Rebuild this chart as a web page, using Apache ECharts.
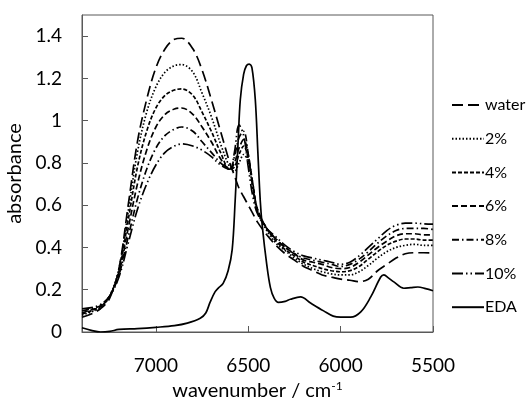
<!DOCTYPE html>
<html>
<head>
<meta charset="utf-8">
<script src="https://cdn.jsdelivr.net/npm/echarts@6/dist/echarts.min.js"></script>
<style>
  html, body { margin: 0; padding: 0; background: #fff; }
  #chart { width: 530px; height: 403px; }
</style>
</head>
<body>
<div id="chart"></div>
<script>
// wavenumber grid shared by the sample spectra (cm-1)
var wnGrid = [7400, 7350, 7300, 7250, 7200, 7150, 7100, 7050, 7000, 6950, 6900, 6860, 6800, 6750, 6700, 6650,
    6600, 6575, 6550, 6525, 6500, 6475, 6450, 6400, 6350, 6300, 6250, 6200, 6150, 6100, 6050, 6000,
    5950, 5900, 5850, 5800, 5750, 5700, 5650, 5600, 5550, 5500];

var water = [0.07, 0.085, 0.11, 0.16, 0.30, 0.60, 0.90, 1.10, 1.25, 1.34, 1.385, 1.39, 1.34, 1.24, 1.10, 0.95,
    0.80, 0.74, 0.68, 0.64, 0.60, 0.56, 0.52, 0.46, 0.41, 0.37, 0.34, 0.31, 0.29, 0.27, 0.26, 0.25,
    0.245, 0.238, 0.25, 0.29, 0.32, 0.35, 0.37, 0.375, 0.375, 0.374];
var p2 = [0.08, 0.095, 0.115, 0.17, 0.30, 0.57, 0.85, 1.04, 1.16, 1.23, 1.26, 1.265, 1.23, 1.13, 1.02, 0.89,
    0.78, 0.76, 0.80, 0.84, 0.80, 0.68, 0.57, 0.48, 0.42, 0.385, 0.35, 0.32, 0.30, 0.285, 0.275, 0.27,
    0.27, 0.285, 0.315, 0.35, 0.38, 0.40, 0.41, 0.415, 0.41, 0.41];
var p4 = [0.085, 0.10, 0.12, 0.17, 0.29, 0.53, 0.78, 0.95, 1.06, 1.12, 1.145, 1.15, 1.12, 1.04, 0.95, 0.85,
    0.77, 0.78, 0.84, 0.88, 0.82, 0.70, 0.58, 0.49, 0.43, 0.39, 0.36, 0.33, 0.315, 0.30, 0.29, 0.285,
    0.29, 0.31, 0.345, 0.38, 0.41, 0.43, 0.44, 0.44, 0.435, 0.435];
var p6 = [0.09, 0.105, 0.12, 0.17, 0.28, 0.49, 0.70, 0.86, 0.97, 1.03, 1.055, 1.06, 1.03, 0.97, 0.90, 0.82,
    0.77, 0.80, 0.87, 0.91, 0.84, 0.70, 0.58, 0.49, 0.44, 0.40, 0.37, 0.34, 0.33, 0.32, 0.305, 0.30,
    0.305, 0.33, 0.365, 0.40, 0.43, 0.455, 0.465, 0.465, 0.46, 0.46];
var p8 = [0.10, 0.11, 0.125, 0.17, 0.27, 0.45, 0.63, 0.77, 0.87, 0.93, 0.96, 0.97, 0.95, 0.90, 0.85, 0.80,
    0.77, 0.83, 0.92, 0.95, 0.84, 0.68, 0.57, 0.49, 0.44, 0.40, 0.37, 0.35, 0.34, 0.33, 0.32, 0.31,
    0.32, 0.345, 0.38, 0.42, 0.455, 0.48, 0.49, 0.49, 0.49, 0.485];
var p10 = [0.11, 0.115, 0.13, 0.17, 0.26, 0.42, 0.58, 0.70, 0.79, 0.85, 0.88, 0.89, 0.88, 0.86, 0.83, 0.79,
    0.77, 0.85, 0.98, 0.93, 0.78, 0.64, 0.56, 0.49, 0.45, 0.41, 0.38, 0.36, 0.35, 0.34, 0.33, 0.32,
    0.33, 0.36, 0.40, 0.44, 0.48, 0.505, 0.515, 0.515, 0.512, 0.51];

// neat EDA spectrum
var edaWn = [7400, 7350, 7300, 7250, 7200, 7100, 7000, 6900, 6830, 6760, 6730, 6707, 6680, 6660, 6636, 6609,
    6587, 6571, 6555, 6543, 6525, 6510, 6495, 6480, 6462, 6448, 6435, 6424, 6400, 6380, 6360, 6337,
    6300, 6272, 6217, 6163, 6092, 6040, 6000, 5946, 5891, 5837, 5783, 5766, 5740, 5712, 5658, 5620,
    5582, 5540, 5500];
var edaAbs = [0.02, 0.008, 0.0, 0.003, 0.012, 0.016, 0.022, 0.03, 0.042, 0.065, 0.09, 0.14, 0.19, 0.21, 0.23, 0.29,
    0.39, 0.62, 0.9, 1.1, 1.22, 1.26, 1.268, 1.25, 1.1, 0.85, 0.62, 0.5, 0.32, 0.21, 0.16, 0.14,
    0.145, 0.155, 0.166, 0.137, 0.10, 0.075, 0.07, 0.07, 0.095, 0.166, 0.26, 0.27, 0.255, 0.237, 0.207, 0.21,
    0.213, 0.205, 0.195];

var names = ['water', '2%', '4%', '6%', '8%', '10%', 'EDA'];
var dashes = [[11, 5], [1.5, 2], [4, 2], [6, 3], [7, 3, 1.5, 3], [11, 3, 1.5, 3, 1.5, 3], 'solid'];
var values = [water, p2, p4, p6, p8, p10];

function pairs(xs, ys) {
    return xs.map(function (x, i) { return [x, ys[i]]; });
}

var series = names.map(function (name, i) {
    var data = i < 6 ? pairs(wnGrid, values[i]) : pairs(edaWn, edaAbs);
    return {
        name: name,
        type: 'line',
        data: data,
        smooth: 0.35,
        symbol: 'none',
        lineStyle: { color: '#000', width: 1.7, type: dashes[i] },
        itemStyle: { color: '#000' }
    };
});

var font = 'Lato, "Open Sans", sans-serif';
var chart = echarts.init(document.getElementById('chart'));
chart.setOption({
    animation: false,
    grid: {
        left: 82, top: 15, right: 97, bottom: 71, show: true, borderColor: '#595959', borderWidth: 1,
        outerBoundsMode: 'none'
    },
    legend: {
        orient: 'vertical',
        left: 446,
        top: 92,
        itemWidth: 32,
        itemHeight: 14,
        itemGap: 17.7,
        itemStyle: { opacity: 0 },
        textStyle: { fontFamily: font, fontSize: 16, color: '#000', padding: [0, 0, 0, -4] },
        data: names
    },
    xAxis: {
        type: 'value',
        inverse: true,
        min: 5500,
        max: 7400,
        interval: 500,
        name: '{a|wavenumber / cm}{s|-1}',
        nameLocation: 'middle',
        nameGap: 46,
        nameTextStyle: {
            rich: {
                a: { fontFamily: font, fontSize: 20, color: '#000' },
                s: { fontFamily: font, fontSize: 12, color: '#000', verticalAlign: 'top', padding: [0, 0, 10, 0] }
            }
        },
        axisLine: { show: true, lineStyle: { color: '#595959' } },
        axisTick: { show: true, inside: true, length: 6, lineStyle: { color: '#595959' } },
        axisLabel: {
            showMaxLabel: false, margin: 24, fontFamily: font, fontSize: 19, color: '#000',
            formatter: function (v) { return String(v); }
        },
        splitLine: { show: false }
    },
    yAxis: {
        type: 'value',
        min: 0,
        max: 1.5,
        interval: 0.2,
        name: 'absorbance',
        nameLocation: 'middle',
        nameGap: 54,
        nameTextStyle: { fontFamily: font, fontSize: 20, color: '#000' },
        axisLine: { show: true, lineStyle: { color: '#595959' } },
        axisTick: { show: true, inside: true, length: 6, lineStyle: { color: '#595959' } },
        axisLabel: { showMaxLabel: false, margin: 20, fontFamily: font, fontSize: 19, color: '#000' },
        splitLine: { show: false }
    },
    series: series
});
</script>
</body>
</html>
